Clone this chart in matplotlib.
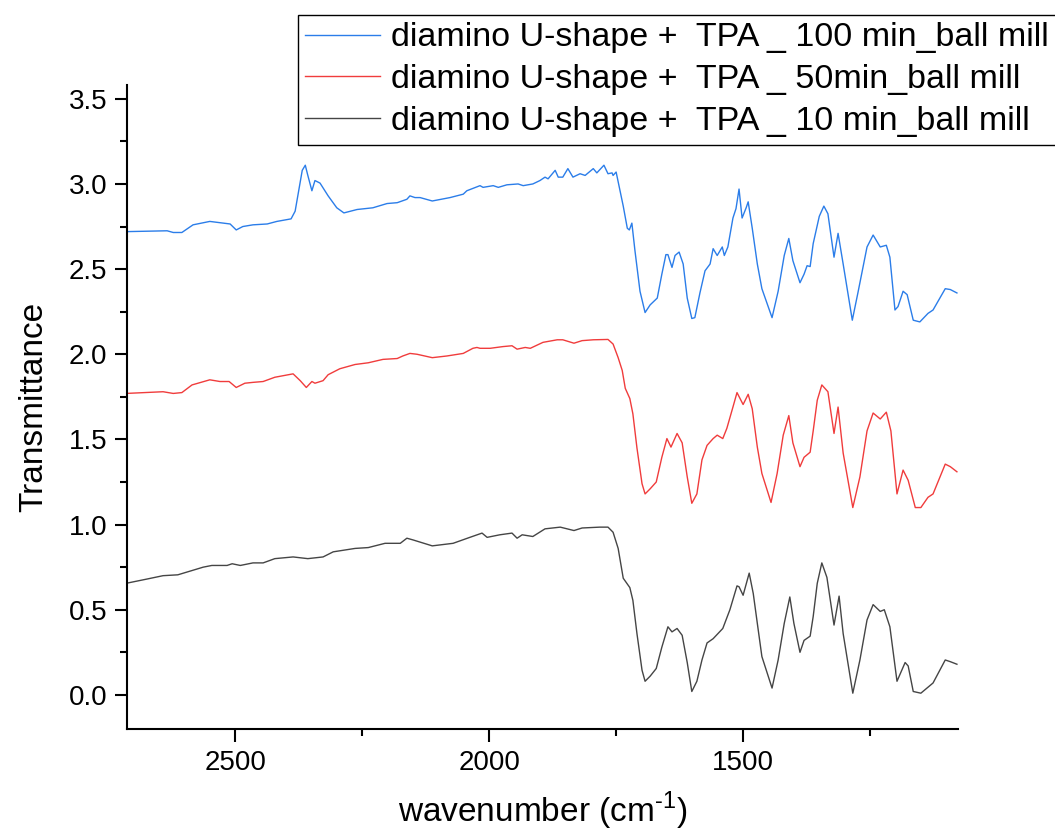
import matplotlib
matplotlib.use("Agg")
import matplotlib.pyplot as plt
from matplotlib.ticker import MultipleLocator

plt.rcParams['font.family'] = ['Liberation Sans', 'DejaVu Sans']
plt.rcParams['mathtext.fontset'] = 'custom'
plt.rcParams['mathtext.rm'] = 'Liberation Sans'

# FTIR spectra, (wavenumber cm-1, transmittance) pairs, offset stacked
spec_100min = [(2715, 2.72), (2634, 2.725), (2622, 2.715), (2605, 2.715), (2583, 2.76), (2550, 2.78),
               (2510, 2.765), (2498, 2.73), (2485, 2.75), (2465, 2.76), (2437, 2.765), (2418, 2.78),
               (2390, 2.795), (2382, 2.84), (2368, 3.08), (2362, 3.11), (2357, 3.05), (2349, 2.96),
               (2343, 3.02), (2333, 3.005), (2317, 2.93), (2300, 2.86), (2286, 2.83), (2260, 2.85),
               (2229, 2.86), (2201, 2.885), (2181, 2.89), (2162, 2.91), (2156, 2.93), (2146, 2.92),
               (2136, 2.92), (2112, 2.90), (2077, 2.92), (2051, 2.94), (2044, 2.96), (2018, 2.99),
               (2012, 2.98), (1992, 2.99), (1982, 2.98), (1965, 2.995), (1943, 3.00), (1933, 2.99),
               (1914, 3.00), (1900, 3.02), (1890, 3.04), (1884, 3.03), (1870, 3.08), (1864, 3.04),
               (1855, 3.04), (1845, 3.09), (1835, 3.04), (1821, 3.06), (1811, 3.05), (1795, 3.09),
               (1788, 3.065), (1774, 3.11), (1766, 3.06), (1758, 3.065), (1756, 3.05), (1750, 3.07),
               (1738, 2.90), (1736, 2.87), (1728, 2.74), (1724, 2.73), (1719, 2.77), (1713, 2.61),
               (1703, 2.37), (1693, 2.245), (1683, 2.29), (1669, 2.33), (1660, 2.47), (1652, 2.585),
               (1648, 2.585), (1640, 2.51), (1634, 2.58), (1626, 2.60), (1618, 2.53), (1610, 2.33),
               (1601, 2.21), (1595, 2.215), (1585, 2.36), (1575, 2.49), (1565, 2.53), (1559, 2.62),
               (1551, 2.58), (1541, 2.63), (1537, 2.58), (1530, 2.63), (1520, 2.80), (1514, 2.855),
               (1508, 2.97), (1502, 2.80), (1494, 2.86), (1490, 2.895), (1482, 2.74), (1472, 2.53),
               (1463, 2.385), (1443, 2.215), (1431, 2.37), (1419, 2.58), (1410, 2.68), (1402, 2.55),
               (1388, 2.42), (1380, 2.47), (1374, 2.52), (1368, 2.515), (1362, 2.65), (1350, 2.81),
               (1341, 2.87), (1333, 2.825), (1321, 2.57), (1313, 2.71), (1303, 2.53), (1285, 2.20),
               (1274, 2.36), (1256, 2.63), (1244, 2.70), (1230, 2.63), (1218, 2.64), (1211, 2.57),
               (1201, 2.26), (1195, 2.28), (1185, 2.37), (1177, 2.35), (1165, 2.20), (1152, 2.19),
               (1136, 2.24), (1126, 2.26), (1102, 2.385), (1092, 2.38), (1079, 2.36)]

spec_50min = [(2715, 1.77), (2642, 1.78), (2622, 1.77), (2605, 1.775), (2585, 1.82), (2550, 1.85),
              (2530, 1.84), (2512, 1.84), (2498, 1.805), (2481, 1.83), (2465, 1.835), (2445, 1.84),
              (2422, 1.865), (2386, 1.885), (2372, 1.845), (2360, 1.805), (2349, 1.84), (2343, 1.83),
              (2327, 1.845), (2317, 1.88), (2294, 1.915), (2264, 1.94), (2238, 1.95), (2209, 1.97),
              (2181, 1.975), (2170, 1.99), (2156, 2.005), (2142, 2.0), (2112, 1.98), (2083, 1.99),
              (2051, 2.005), (2032, 2.035), (2024, 2.04), (2018, 2.035), (1998, 2.035), (1973, 2.045),
              (1955, 2.05), (1945, 2.03), (1929, 2.04), (1919, 2.035), (1894, 2.07), (1866, 2.085),
              (1855, 2.085), (1833, 2.065), (1817, 2.08), (1795, 2.085), (1766, 2.087), (1756, 2.06),
              (1746, 1.98), (1738, 1.905), (1732, 1.80), (1723, 1.74), (1717, 1.65), (1709, 1.45),
              (1699, 1.24), (1693, 1.18), (1683, 1.21), (1671, 1.25), (1660, 1.395), (1650, 1.505),
              (1642, 1.455), (1630, 1.535), (1620, 1.48), (1610, 1.28), (1601, 1.125), (1591, 1.18),
              (1581, 1.38), (1571, 1.465), (1559, 1.505), (1551, 1.525), (1540, 1.505), (1532, 1.565),
              (1520, 1.69), (1512, 1.775), (1500, 1.705), (1490, 1.765), (1482, 1.68), (1472, 1.455),
              (1463, 1.30), (1445, 1.13), (1433, 1.30), (1421, 1.525), (1410, 1.64), (1402, 1.48),
              (1388, 1.34), (1380, 1.395), (1368, 1.425), (1362, 1.55), (1354, 1.73), (1345, 1.82),
              (1333, 1.78), (1321, 1.535), (1313, 1.69), (1303, 1.42), (1284, 1.10), (1270, 1.28),
              (1256, 1.55), (1244, 1.655), (1230, 1.62), (1218, 1.66), (1209, 1.55), (1197, 1.18),
              (1185, 1.32), (1175, 1.26), (1161, 1.10), (1150, 1.10), (1136, 1.16), (1126, 1.18),
              (1102, 1.355), (1092, 1.34), (1079, 1.31)]

spec_10min = [(2715, 0.655), (2674, 0.68), (2642, 0.70), (2613, 0.705), (2563, 0.75), (2546, 0.76),
              (2516, 0.76), (2506, 0.77), (2490, 0.76), (2465, 0.775), (2445, 0.775), (2422, 0.80),
              (2386, 0.81), (2357, 0.80), (2327, 0.81), (2307, 0.84), (2264, 0.86), (2238, 0.865),
              (2205, 0.89), (2175, 0.89), (2162, 0.92), (2150, 0.91), (2112, 0.875), (2071, 0.89),
              (2038, 0.925), (2014, 0.95), (2004, 0.925), (1979, 0.94), (1955, 0.95), (1945, 0.92),
              (1935, 0.94), (1914, 0.93), (1890, 0.975), (1860, 0.985), (1833, 0.965), (1817, 0.98),
              (1782, 0.985), (1766, 0.985), (1756, 0.955), (1746, 0.86), (1736, 0.685), (1723, 0.63),
              (1717, 0.555), (1709, 0.36), (1699, 0.145), (1693, 0.08), (1683, 0.11), (1671, 0.155),
              (1660, 0.28), (1648, 0.40), (1640, 0.37), (1630, 0.39), (1620, 0.35), (1610, 0.19),
              (1601, 0.02), (1591, 0.08), (1581, 0.205), (1571, 0.305), (1559, 0.33), (1540, 0.39),
              (1526, 0.50), (1512, 0.64), (1508, 0.635), (1500, 0.585), (1488, 0.715), (1480, 0.595),
              (1472, 0.42), (1463, 0.225), (1443, 0.04), (1431, 0.205), (1419, 0.42), (1408, 0.575),
              (1400, 0.42), (1388, 0.25), (1380, 0.32), (1368, 0.345), (1362, 0.46), (1354, 0.655),
              (1345, 0.775), (1335, 0.69), (1321, 0.41), (1311, 0.58), (1303, 0.36), (1284, 0.01),
              (1270, 0.205), (1256, 0.44), (1244, 0.53), (1230, 0.49), (1222, 0.50), (1211, 0.40),
              (1197, 0.08), (1181, 0.19), (1175, 0.17), (1165, 0.02), (1150, 0.01), (1136, 0.045),
              (1126, 0.07), (1102, 0.205), (1092, 0.195), (1079, 0.18)]

labels = ['diamino U-shape +  TPA _ 100 min_ball mill',
          'diamino U-shape +  TPA _ 50min_ball mill',
          'diamino U-shape +  TPA _ 10 min_ball mill']
colors = ['#2b7de9', '#f03c3c', '#454545']

fig = plt.figure(figsize=(10.55, 8.35), dpi=100)
ax = fig.add_axes([0.1204, 0.127, 0.7876, 0.771])

lines = []
for pts, c, lab in zip([spec_100min, spec_50min, spec_10min], colors, labels):
    wn, t = zip(*pts)
    ln, = ax.plot(wn, t, color=c, lw=1.0, label=lab)
    lines.append(ln)

ax.set_xlim(2713, 1077)
ax.set_ylim(-0.2, 3.58)
ax.xaxis.set_major_locator(MultipleLocator(500))
ax.xaxis.set_minor_locator(MultipleLocator(250))
ax.yaxis.set_major_locator(MultipleLocator(0.5))
ax.yaxis.set_minor_locator(MultipleLocator(0.25))
ax.yaxis.set_major_formatter(plt.FormatStrFormatter('%.1f'))

for s in ['top', 'right']:
    ax.spines[s].set_visible(False)
for s in ['left', 'bottom']:
    ax.spines[s].set_linewidth(1.5)

ax.tick_params(which='major', direction='out', length=9, width=1.5, labelsize=20)
ax.tick_params(which='minor', direction='out', length=5, width=1.5)
ax.tick_params(axis='x', pad=6)
ax.tick_params(axis='y', pad=5)

ax.set_xlabel('wavenumber (cm$^{\\text{-1}}$)', fontsize=24, labelpad=10)
ax.set_ylabel('Transmittance', fontsize=24, labelpad=14)

leg = fig.legend(handles=lines, loc='upper left', bbox_to_anchor=(298 / 1055, 1 - 15 / 835),
                 fontsize=24.5, frameon=True, fancybox=False, edgecolor='black', framealpha=1,
                 borderpad=0.22, labelspacing=0.32, handlelength=2.2, handletextpad=0.3,
                 borderaxespad=0)
leg.get_frame().set_linewidth(1.0)

fig.savefig('out.png', dpi=100)
